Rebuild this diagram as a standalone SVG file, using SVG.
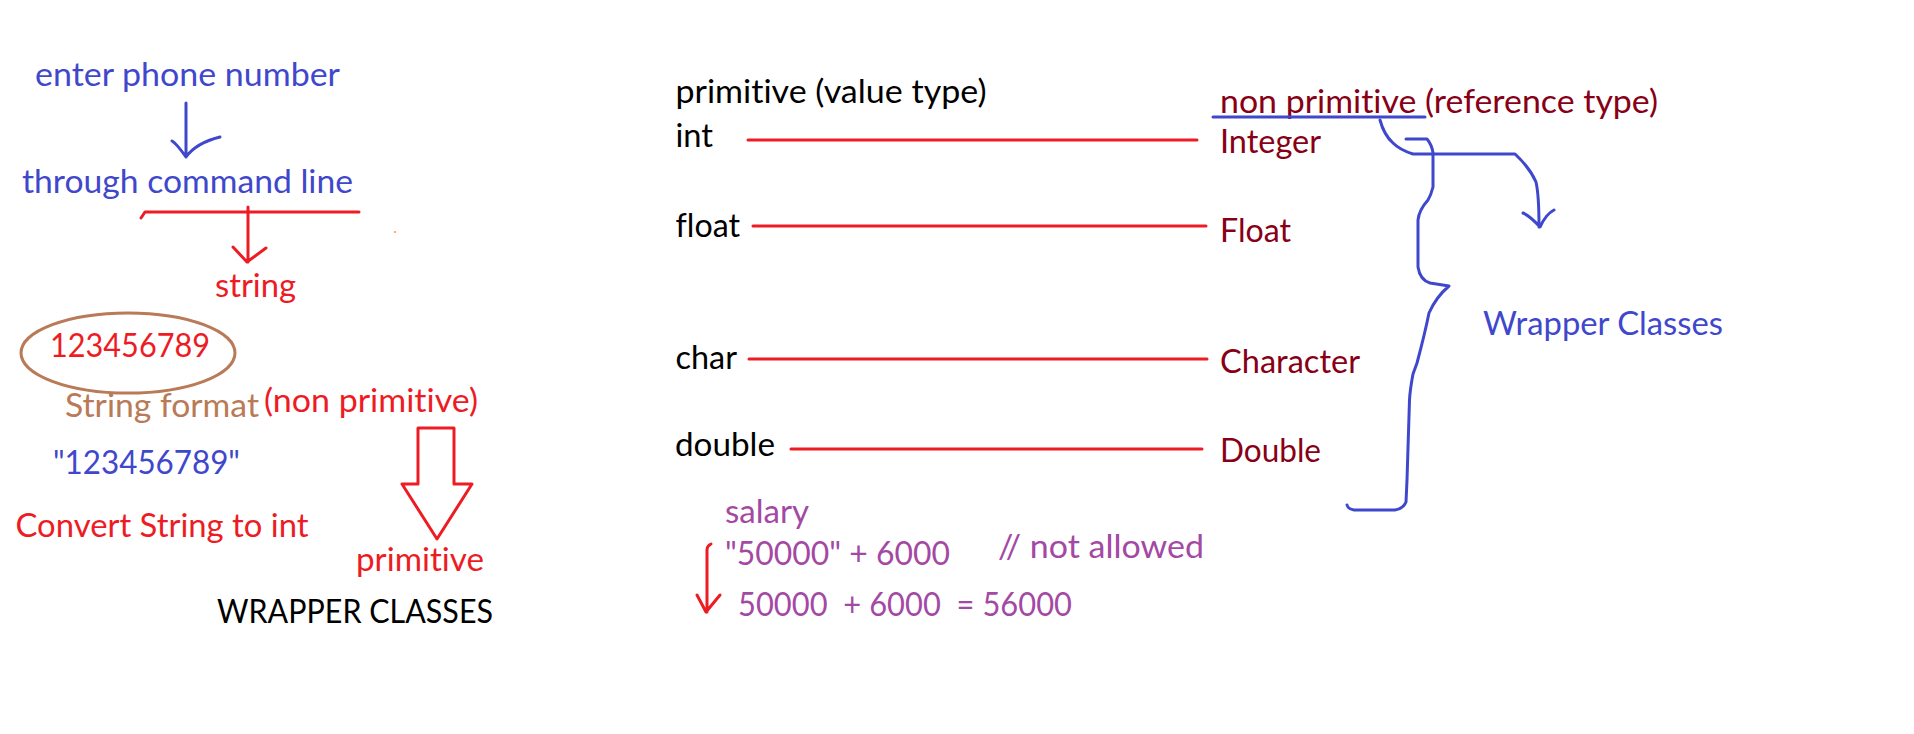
<svg xmlns="http://www.w3.org/2000/svg" width="1914" height="734" viewBox="0 0 1914 734">
<style>
text{font-family:Lato,"Open Sans","Liberation Sans",sans-serif;font-size:32px;font-variant-ligatures:none;font-feature-settings:"liga" 0,"clig" 0}
.blue{fill:#3F48CC}.red{fill:#ED1C24}.brown{fill:#B97A57}.dred{fill:#880015}.purple{fill:#A349A4}.black{fill:#000}
.sr{fill:none;stroke:#ED1C24;stroke-width:3;stroke-linecap:round;stroke-linejoin:round}
.sb{fill:none;stroke:#3F48CC;stroke-width:3;stroke-linecap:round;stroke-linejoin:round}
</style>
<rect width="1914" height="734" fill="#fff"/>
<g id="n-enter"><text class="blue" x="35" y="86" textLength="305" lengthAdjust="spacingAndGlyphs">enter phone number</text></g>
<g id="n-through"><text class="blue" x="22" y="193" textLength="331" lengthAdjust="spacingAndGlyphs">through command line</text></g>
<g id="n-string"><text class="red" x="215" y="297" textLength="81" lengthAdjust="spacingAndGlyphs">string</text></g>
<g id="n-num">
<ellipse cx="128" cy="353" rx="107" ry="40" fill="none" stroke="#B97A57" stroke-width="3"/>
<text class="red" x="50" y="357" textLength="160" lengthAdjust="spacingAndGlyphs">123456789</text>
</g>
<g id="n-format"><text class="brown" x="65" y="417" textLength="194" lengthAdjust="spacingAndGlyphs">String format</text>
<text class="red" x="264" y="412" textLength="214" lengthAdjust="spacingAndGlyphs">(non primitive)</text></g>
<g id="n-quoted"><text class="blue" x="53" y="474" textLength="187" lengthAdjust="spacingAndGlyphs">"123456789"</text></g>
<g id="n-convert"><text class="red" x="15.5" y="537" textLength="293" lengthAdjust="spacingAndGlyphs">Convert String to int</text></g>
<g id="n-primitive"><text class="red" x="356" y="571" textLength="128" lengthAdjust="spacingAndGlyphs">primitive</text></g>
<g id="n-title"><text class="black" x="217" y="623" textLength="276" lengthAdjust="spacingAndGlyphs">WRAPPER CLASSES</text></g>
<g id="n-primhead"><text class="black" x="675.5" y="103" textLength="311" lengthAdjust="spacingAndGlyphs">primitive (value type)</text></g>
<g id="n-int"><text class="black" x="675.5" y="147" textLength="37.5" lengthAdjust="spacingAndGlyphs">int</text></g>
<g id="n-float"><text class="black" x="675.5" y="237" textLength="64.5" lengthAdjust="spacingAndGlyphs">float</text></g>
<g id="n-char"><text class="black" x="675.5" y="369" textLength="61.5" lengthAdjust="spacingAndGlyphs">char</text></g>
<g id="n-double"><text class="black" x="675" y="456" textLength="100" lengthAdjust="spacingAndGlyphs">double</text></g>
<g id="n-nonprim"><text class="dred" x="1220" y="113" textLength="438" lengthAdjust="spacingAndGlyphs">non primitive (reference type)</text></g>
<g id="n-Integer"><text class="dred" x="1220" y="153" textLength="101" lengthAdjust="spacingAndGlyphs">Integer</text></g>
<g id="n-Float"><text class="dred" x="1220" y="242" textLength="71" lengthAdjust="spacingAndGlyphs">Float</text></g>
<g id="n-Character"><text class="dred" x="1220" y="373" textLength="140" lengthAdjust="spacingAndGlyphs">Character</text></g>
<g id="n-Double"><text class="dred" x="1220" y="462" textLength="101" lengthAdjust="spacingAndGlyphs">Double</text></g>
<g id="n-wrapper"><text class="blue" x="1483" y="335" textLength="240" lengthAdjust="spacingAndGlyphs">Wrapper Classes</text></g>
<g id="n-salary"><text class="purple" x="725" y="523" textLength="84" lengthAdjust="spacingAndGlyphs">salary</text></g>
<g id="n-expr1"><text class="purple" x="725" y="565" textLength="225" lengthAdjust="spacingAndGlyphs">"50000" + 6000</text></g>
<g id="n-notallowed"><text class="purple" x="998" y="558" textLength="206" lengthAdjust="spacingAndGlyphs">// not allowed</text></g>
<g id="n-expr2"><text class="purple" x="738" y="616" textLength="334" lengthAdjust="spacingAndGlyphs" xml:space="preserve">50000  + 6000  = 56000</text></g>
<g id="connectors">
<path class="sb" d="M186,103 V157 M172,141 Q176,143 186,157 Q196,143 220,137"/>
<path class="sr" d="M141,218 L145,212 H359 M248,207 V262 M233,247 L247,262 L266,248"/>
<rect x="394" y="231" width="2" height="2" fill="#FFB060"/>
<polygon class="sr" points="418,428 454,428 454,484 472,484 437,539 402,484 418,484"/>
<path class="sr" d="M748,140 H1197 M753,226 H1206 M749,359 H1207 M791,449 H1202"/>
<path class="sr" d="M711,544 Q707,546 707,550 V612 M697,595 L706,612 L720,595"/>
<path class="sb" d="M1213,117 H1425"/>
<path class="sb" d="M1380,120 Q1384,135 1393,143 Q1400,150 1413,154 H1515 Q1530,168 1536,182 Q1539,195 1539,227 M1523,213 Q1530,216 1540,227 Q1546,214 1554,210"/>
<path class="sb" d="M1406,139 H1427 Q1432,145 1433,153 V187 Q1431,195 1428,200 Q1419,210 1418,220 V267 Q1420,280 1430,283 L1449,286 Q1436,297 1429,313 Q1425,333 1417,363 L1413,374 Q1410,390 1409.5,400 L1407,480 L1406,502 Q1403,509 1395,510 H1354 Q1348,509 1347,505"/>
</g>
</svg>
